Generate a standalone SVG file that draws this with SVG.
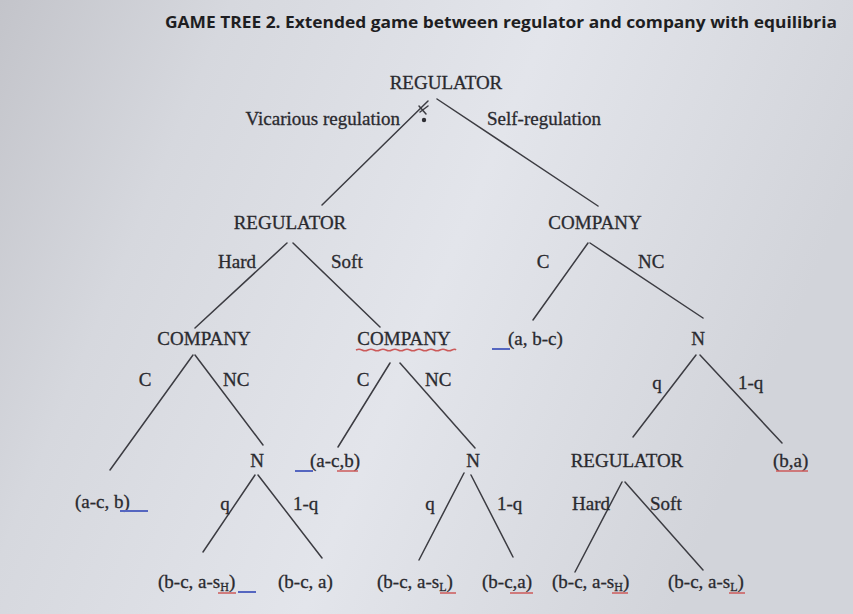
<svg xmlns="http://www.w3.org/2000/svg" width="853" height="614" viewBox="0 0 853 614">
<style>
.t{font-family:"Liberation Serif","Times New Roman",serif;font-size:19px;fill:#2a2a2f;stroke:#2a2a2f;stroke-width:0.3}
.ttl{font-family:"Open Sans","Liberation Sans",Arial,sans-serif;font-size:16px;font-weight:bold;fill:#1e1e22}
.e{stroke:#3c3c42;stroke-width:1.5;fill:none;stroke-linecap:round}
.bu{stroke:#5566c0;stroke-width:2}
.ru{stroke:#cc5a5a;stroke-width:1.5}
</style>
<defs>
<linearGradient id="bg" x1="0" y1="0" x2="1" y2="0.3">
<stop offset="0" stop-color="#c3c4ca"/>
<stop offset="0.25" stop-color="#d6d8de"/>
<stop offset="0.6" stop-color="#e3e5eb"/>
<stop offset="1" stop-color="#d2d4da"/>
</linearGradient>
</defs>
<rect width="853" height="614" fill="url(#bg)"/>
<text class="ttl" x="165" y="28" textLength="672" lengthAdjust="spacingAndGlyphs">GAME TREE 2. Extended game between regulator and company with equilibria</text>

<g id="connectors">
<line class="e" x1="428" y1="101" x2="322" y2="205"/>
<line class="e" x1="437" y1="99" x2="598" y2="206"/>
<line class="e" x1="287" y1="243" x2="195" y2="328"/>
<line class="e" x1="293" y1="243" x2="380" y2="327"/>
<line class="e" x1="588" y1="243" x2="533" y2="320"/>
<line class="e" x1="590" y1="243" x2="703" y2="318"/>
<line class="e" x1="193" y1="355" x2="110" y2="470"/>
<line class="e" x1="195" y1="355" x2="263" y2="445"/>
<line class="e" x1="390" y1="363" x2="338" y2="447"/>
<line class="e" x1="400" y1="363" x2="475" y2="448"/>
<line class="e" x1="696" y1="355" x2="633" y2="437"/>
<line class="e" x1="700" y1="355" x2="782" y2="443"/>
<line class="e" x1="255" y1="475" x2="203" y2="552"/>
<line class="e" x1="258" y1="475" x2="322" y2="558"/>
<line class="e" x1="464" y1="473" x2="419" y2="560"/>
<line class="e" x1="471" y1="475" x2="513" y2="557"/>
<line class="e" x1="622" y1="482" x2="575" y2="572"/>
<line class="e" x1="625" y1="482" x2="703" y2="570"/>
<text class="t" x="400" y="125" text-anchor="end">Vicarious regulation</text>
<text class="t" x="487" y="125">Self-regulation</text>
<text class="t" x="256" y="268" text-anchor="end">Hard</text>
<text class="t" x="331" y="268">Soft</text>
<text class="t" x="543" y="268" text-anchor="middle">C</text>
<text class="t" x="638" y="268">NC</text>
<text class="t" x="145" y="386" text-anchor="middle">C</text>
<text class="t" x="223" y="386">NC</text>
<text class="t" x="363" y="386" text-anchor="middle">C</text>
<text class="t" x="425" y="386">NC</text>
<text class="t" x="657" y="389" text-anchor="middle">q</text>
<text class="t" x="738" y="389">1-q</text>
<text class="t" x="225" y="510" text-anchor="middle">q</text>
<text class="t" x="293" y="510">1-q</text>
<text class="t" x="430" y="510" text-anchor="middle">q</text>
<text class="t" x="497" y="510">1-q</text>
<text class="t" x="610" y="510" text-anchor="end">Hard</text>
<text class="t" x="650" y="510">Soft</text>
</g>

<g id="root">
<text class="t" x="446" y="89" text-anchor="middle">REGULATOR</text>
<path class="e" d="M420 112 L428 106 M419 106 L426 114" stroke-width="1"/>
<circle cx="424" cy="120" r="2.2" fill="#2e2e33"/>
</g>
<g id="regulator2"><text class="t" x="290" y="229" text-anchor="middle">REGULATOR</text></g>
<g id="company-right"><text class="t" x="595" y="229" text-anchor="middle">COMPANY</text></g>
<g id="company-left"><text class="t" x="204" y="345" text-anchor="middle">COMPANY</text></g>
<g id="company-mid"><text class="t" x="404" y="345" text-anchor="middle">COMPANY</text>
<path class="ru" d="M356 350 q3 -1.5 6 0 t6 0 t6 0 t6 0 t6 0 t6 0 t6 0 t6 0 t6 0 t6 0 t6 0 t6 0 t6 0 t6 0 t6 0 t6 0 t4 0" fill="none"/></g>
<g id="payoff-a-bc"><text class="t" x="508" y="345">(a, b-c)</text><line class="bu" x1="492" y1="349" x2="510" y2="349"/></g>
<g id="nature-right"><text class="t" x="698" y="345" text-anchor="middle">N</text></g>
<g id="nature-left"><text class="t" x="257" y="467" text-anchor="middle">N</text></g>
<g id="payoff-ac-b-mid"><text class="t" x="310" y="467">(a-c,b)</text><line class="bu" x1="295" y1="471" x2="313" y2="471"/><line class="ru" x1="337" y1="471" x2="358" y2="471"/></g>
<g id="nature-mid"><text class="t" x="473" y="467" text-anchor="middle">N</text></g>
<g id="regulator3"><text class="t" x="627" y="467" text-anchor="middle">REGULATOR</text></g>
<g id="payoff-b-a"><text class="t" x="773" y="467">(b,a)</text><line class="ru" x1="776" y1="471" x2="808" y2="471"/></g>
<g id="payoff-ac-b"><text class="t" x="75" y="508">(a-c, b)</text><line class="bu" x1="120" y1="511" x2="148" y2="511"/></g>
<g id="leaf1"><text class="t" x="158" y="588">(b-c, a-s<tspan font-size="12" dy="3">H</tspan><tspan dy="-3">)</tspan></text><line class="ru" x1="218" y1="593" x2="236" y2="593"/><line class="bu" x1="238" y1="592" x2="256" y2="592"/></g>
<g id="leaf2"><text class="t" x="278" y="588">(b-c, a)</text></g>
<g id="leaf3"><text class="t" x="377" y="588">(b-c, a-s<tspan font-size="12" dy="3">L</tspan><tspan dy="-3">)</tspan></text><line class="ru" x1="440" y1="593" x2="456" y2="593"/></g>
<g id="leaf4"><text class="t" x="482" y="588">(b-c,a)</text><line class="ru" x1="510" y1="593" x2="533" y2="593"/></g>
<g id="leaf5"><text class="t" x="552" y="588">(b-c, a-s<tspan font-size="12" dy="3">H</tspan><tspan dy="-3">)</tspan></text><line class="ru" x1="612" y1="593" x2="628" y2="593"/></g>
<g id="leaf6"><text class="t" x="668" y="588">(b-c, a-s<tspan font-size="12" dy="3">L</tspan><tspan dy="-3">)</tspan></text><line class="ru" x1="729" y1="593" x2="745" y2="593"/></g>
</svg>
